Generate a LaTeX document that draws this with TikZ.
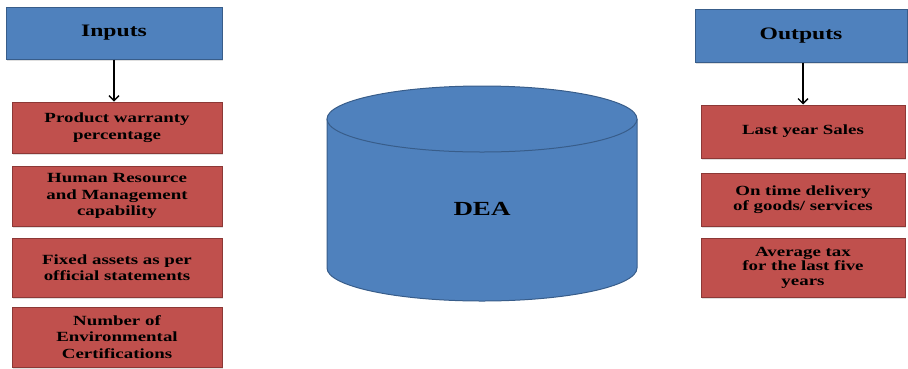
\documentclass[tikz,border=0pt]{standalone}
\usepackage{fontspec}
\setmainfont{Liberation Serif}[FakeStretch=1.35]
\usetikzlibrary{shadows,arrows.meta}
\definecolor{boxblue}{HTML}{4F81BD}
\definecolor{blueline}{HTML}{385D8A}
\definecolor{boxred}{HTML}{C0504D}
\definecolor{redline}{HTML}{8C3836}
\tikzset{
	title/.style={draw=blueline,fill=boxblue,line width=1pt,inner sep=0pt,
		font=\fontsize{17.5}{20}\selectfont\bfseries,
		drop shadow={shadow xshift=1pt,shadow yshift=-1.5pt,opacity=.25}},
	factor/.style={draw=redline,fill=boxred,line width=1pt,inner sep=0pt,align=center,
		drop shadow={shadow xshift=1pt,shadow yshift=-1.5pt,opacity=.25}},
	link/.style={-{Straight Barb[length=5pt,width=10pt]},line width=1.3pt}
}
\begin{document}
\begin{tikzpicture}[x=1pt,y=-1pt]
	\useasboundingbox (0,0) rectangle (908,368);
	\node[title,minimum width=216pt,minimum height=52pt] (inputs) at (114,33) {Inputs};
	\node[title,minimum width=212pt,minimum height=53pt] (outputs) at (801,35.5) {Outputs};
	\foreach \n/\y/\h/\t in {in1/127.5/51/{Product warranty\\percentage},
		in2/196/60/{Human Resource\\and Management\\capability},
		in3/267.5/59/{Fixed assets as per\\official statements},
		in4/337/60/{Number of\\Environmental\\Certifications}}
		\node[factor,minimum width=210pt,minimum height=\h pt,
			font=\fontsize{14}{16.5}\selectfont\bfseries] (\n) at (117,\y) {\t};
	\foreach \n/\y/\h/\t in {out1/131.5/53/{Last year Sales},
		out2/199.5/53/{On time delivery\\of goods/ services},
		out3/267.5/59/{Average tax\\for the last five\\years}}
		\node[factor,minimum width=204pt,minimum height=\h pt,
			font=\fontsize{14}{14.5}\selectfont\bfseries] (\n) at (803,\y) {\t};
	\draw[link] (inputs) -- (inputs |- in1.north);
	\draw[link] (out1.north |- outputs.south) -- (out1.north);
	\fill[boxblue] (327,119) -- (327,268) arc[start angle=180,end angle=360,x radius=155pt,y radius=33pt] -- (637,119) -- cycle;
	\draw[blueline,line width=1pt] (327,119) -- (327,268) arc[start angle=180,end angle=360,x radius=155pt,y radius=33pt] -- (637,119);
	\filldraw[fill=boxblue,draw=blueline,line width=1pt] (482,119) ellipse[x radius=155pt,y radius=33pt];
	\node[font=\fontsize{20}{24}\selectfont\bfseries] (dea) at (482,209) {DEA};
\end{tikzpicture}
\end{document}
